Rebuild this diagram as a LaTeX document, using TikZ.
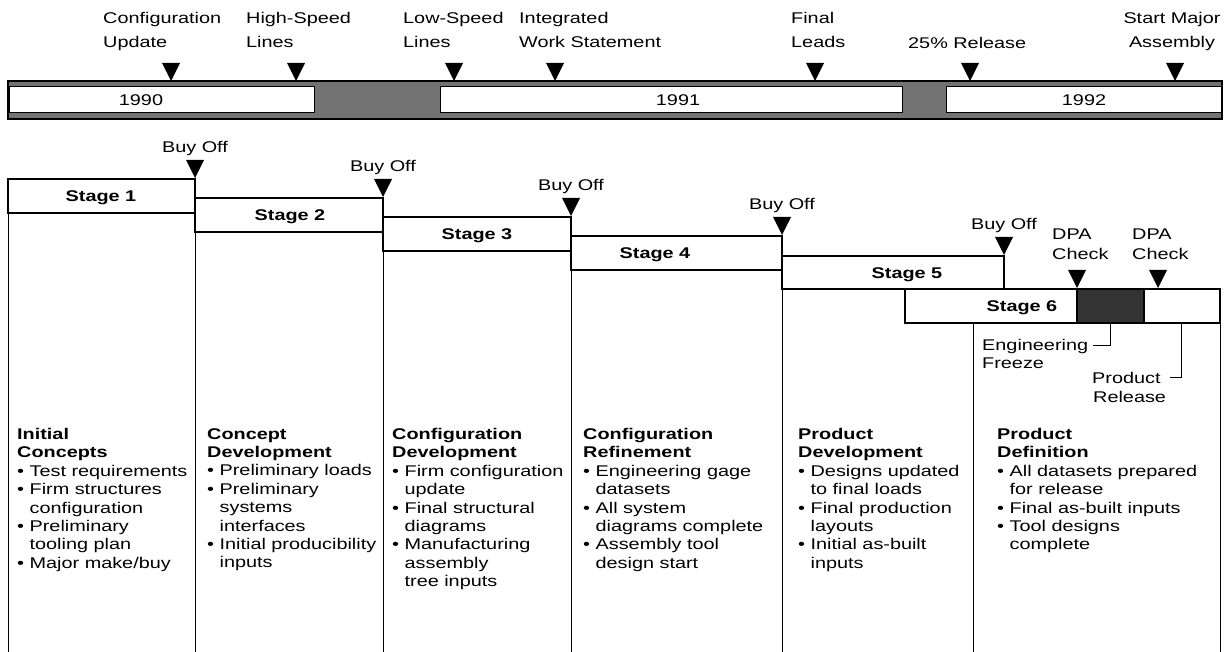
\documentclass[tikz,border=0pt]{standalone}
\usepackage{fontspec}
\setmainfont{Liberation Sans}[FakeStretch=1.28]
\usetikzlibrary{positioning}

\newcommand\bl{\textbullet\ }
\newcommand\ind{\phantom{\textbullet\ }}

\tikzset{
  rule/.style={line width=1pt},
  toplbl/.style={inner sep=0pt, align=left, anchor=north west, font=\fontsize{15.5}{24}\selectfont},
  dpalbl/.style={inner sep=0pt, align=left, anchor=north west, font=\fontsize{15.5}{20}\selectfont},
  plainlbl/.style={inner sep=0pt, anchor=base, font=\fontsize{15.5}{18}\selectfont},
  stagelbl/.style={inner sep=0pt, anchor=base, font=\fontsize{15.5}{18}\selectfont\bfseries},
  coltext/.style={inner sep=0pt, align=left, anchor=north west, font=\fontsize{15.5}{18.4}\selectfont},
  pics/downtri/.style={code={\fill (0,0) -- (-9,-18) -- (9,-18) -- cycle;}}
}

\begin{document}
\begin{tikzpicture}[x=1pt, y=-1pt]
  \useasboundingbox (0,0) rectangle (1226,652);

  % year bar
  \draw[line width=1.6pt, fill=black!55] (8,81) rectangle (1222,119);
  \draw[rule, fill=white] (9,87) rectangle (314,113);
  \draw[rule, fill=white] (440,87) rectangle (902,113);
  \draw[rule, fill=white] (946,87) rectangle (1221,113);
  \node[plainlbl] (yr90) at (141,106) {1990};
  \node[plainlbl] (yr91) at (678,106) {1991};
  \node[plainlbl] (yr92) at (1084,106) {1992};

  % milestones above the bar
  \node[toplbl] (cfgupd) at (103,12) {Configuration\\Update};
  \node[toplbl] (hsl) at (246,12) {High-Speed\\Lines};
  \node[toplbl] (lsl) at (403,12) {Low-Speed\\Lines};
  \node[toplbl] (iws) at (519,12) {Integrated\\Work Statement};
  \node[toplbl] (fleads) at (791,12) {Final\\Leads};
  \node[toplbl] (rel25) at (908,37) {25\% Release};
  \node[toplbl, align=center, anchor=north] (sma) at (1172,12) {Start Major\\Assembly};
  \foreach \x in {171, 296, 454, 555, 815, 970, 1175}
    \pic at (\x,81) {downtri};

  % column rules
  \draw[rule] (8,179) -- (8,652);
  \foreach \x/\y in {195/178, 383/197, 571/216, 782/235}
    \draw[rule] (\x,\y) -- (\x,652);
  \draw[rule] (973,323) -- (973,652);
  \draw[rule] (1220,289) -- (1220,652);

  % stage headers
  \foreach \n/\xa/\xb/\ya/\xt in {1/8/195/179/101, 2/195/383/198/290, 3/383/571/217/477, 4/571/782/236/655} {
    \draw[line width=1.2pt] (\xa,\ya) rectangle (\xb,\ya+34);
    \node[stagelbl] (stage\n) at (\xt,\ya+23) {Stage \n};
  }
  \draw[line width=1.2pt] (782,256) rectangle (1004,289);
  \node[stagelbl] (stage5) at (907,279) {Stage 5};
  \draw[line width=1.2pt, fill=white] (905,289) rectangle (1220,323);
  \draw[line width=1.2pt, fill=black!80] (1077,289) rectangle (1144,323);
  \node[stagelbl] (stage6) at (1022,312) {Stage 6};

  % buy off points
  \foreach \x/\y [count=\i] in {195/178, 383/197, 571/216, 782/235, 1004/255} {
    \pic at (\x,\y) {downtri};
    \node[plainlbl] (buyoff\i) at (\x,\y-25) {Buy Off};
  }

  % DPA checks
  \node[dpalbl] (dpaA) at (1052,229) {DPA\\Check};
  \node[dpalbl] (dpaB) at (1132,229) {DPA\\Check};
  \pic at (1077,288) {downtri};
  \pic at (1158,288) {downtri};

  % freeze and release
  \coordinate (frz) at (1110,323);
  \coordinate (prel) at (1181,323);
  \node[plainlbl, anchor=base west] (eng) at (982,350) {Engineering};
  \node[plainlbl, anchor=base west] (freeze) at (982,368) {Freeze};
  \node[plainlbl, anchor=base west] (prod) at (1092,383) {Product};
  \node[plainlbl, anchor=base west] (prodrel) at (1093,402) {Release};
  \draw[rule] ([xshift=5pt]eng.east) -| (frz);
  \draw[rule] ([xshift=9pt]prod.east) -| (prel);

  % column texts
  \node[coltext] (colA) at (17,428) {\textbf{Initial}\\\textbf{Concepts}\\\bl Test requirements\\\bl Firm structures\\\ind configuration\\\bl Preliminary\\\ind tooling plan\\\bl Major make/buy};
  \node[coltext] (colB) at (207,428) {\textbf{Concept}\\\textbf{Development}\\\bl Preliminary loads\\\bl Preliminary\\\ind systems\\\ind interfaces\\\bl Initial producibility\\\ind inputs};
  \node[coltext] (colC) at (392,428) {\textbf{Configuration}\\\textbf{Development}\\\bl Firm configuration\\\ind update\\\bl Final structural\\\ind diagrams\\\bl Manufacturing\\\ind assembly\\\ind tree inputs};
  \node[coltext] (colD) at (583,428) {\textbf{Configuration}\\\textbf{Refinement}\\\bl Engineering gage\\\ind datasets\\\bl All system\\\ind diagrams complete\\\bl Assembly tool\\\ind design start};
  \node[coltext] (colE) at (798,428) {\textbf{Product}\\\textbf{Development}\\\bl Designs updated\\\ind to final loads\\\bl Final production\\\ind layouts\\\bl Initial as-built\\\ind inputs};
  \node[coltext] (colF) at (997,428) {\textbf{Product}\\\textbf{Definition}\\\bl All datasets prepared\\\ind for release\\\bl Final as-built inputs\\\bl Tool designs\\\ind complete};
\end{tikzpicture}
\end{document}
